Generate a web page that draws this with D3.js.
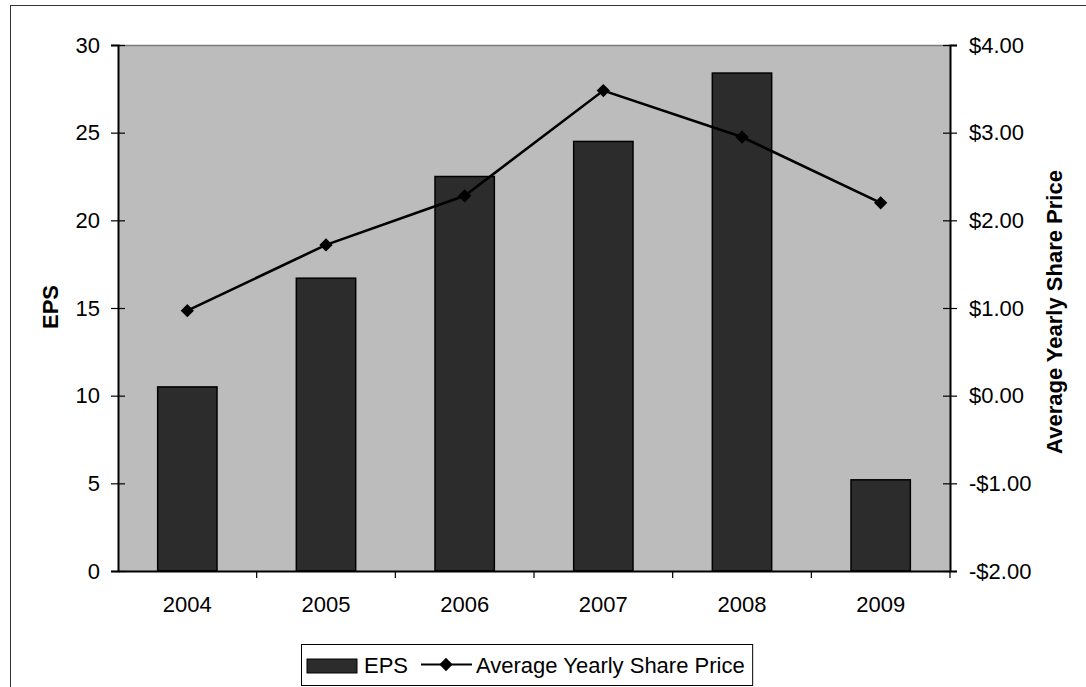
<!DOCTYPE html>
<html>
<head>
<meta charset="utf-8">
<script src="https://cdn.jsdelivr.net/npm/d3@7"></script>
<style>
  html, body { margin: 0; padding: 0; background: #fff; }
  svg { display: block; font-family: "Liberation Sans", Arial, sans-serif; }
</style>
</head>
<body>
<svg id="chart" width="1086" height="687"></svg>
<script>
// EPS and average yearly share price, 2004-2009
const years = ["2004", "2005", "2006", "2007", "2008", "2009"];
const epsValues = [10.5, 16.7, 22.5, 24.5, 28.4, 5.2];
const priceValues = [0.97, 1.72, 2.28, 3.48, 2.95, 2.20];
const epsTicks = [0, 5, 10, 15, 20, 25, 30];
const priceTicks = [-2, -1, 0, 1, 2, 3, 4];

const W = 1086, H = 687;
const plot = { left: 118, right: 950, top: 45, bottom: 571 };
const fontSize = 22;

const svg = d3.select("#chart");

// chart frame (runs off the right and bottom edges)
svg.append("rect")
  .attr("x", 10.5).attr("y", 5.5)
  .attr("width", W + 10).attr("height", H + 10)
  .attr("fill", "#fff").attr("stroke", "#333").attr("stroke-width", 1);

const x = d3.scaleBand().domain(years).range([plot.left, plot.right]).padding(0);
const yL = d3.scaleLinear().domain([0, 30]).range([plot.bottom, plot.top]);
const yR = d3.scaleLinear().domain([-2, 4]).range([plot.bottom, plot.top]);
const barW = x.bandwidth() * 0.428;

// plot area
svg.append("rect")
  .attr("x", plot.left).attr("y", plot.top)
  .attr("width", plot.right - plot.left).attr("height", plot.bottom - plot.top)
  .attr("fill", "#bcbcbc");
svg.append("line")
  .attr("x1", plot.left).attr("x2", plot.right)
  .attr("y1", plot.top + 0.5).attr("y2", plot.top + 0.5)
  .attr("stroke", "#7a7a7a").attr("stroke-width", 1.5);

// EPS bars
svg.append("g").selectAll("rect")
  .data(years.map((y, i) => ({ year: y, v: epsValues[i] })))
  .join("rect")
  .attr("x", d => x(d.year) + x.bandwidth() / 2 - barW / 2)
  .attr("y", d => yL(d.v))
  .attr("width", barW)
  .attr("height", d => yL(0) - yL(d.v))
  .attr("fill", "#2c2c2c")
  .attr("stroke", "#000").attr("stroke-width", 1.5);

// share price line
const pts = years.map((y, i) => [x(y) + x.bandwidth() / 2, yR(priceValues[i])]);
svg.append("path")
  .attr("d", d3.line()(pts))
  .attr("fill", "none").attr("stroke", "#000").attr("stroke-width", 2.6);
const diamond = d3.symbol().type(d3.symbolSquare).size(88);
svg.append("g").selectAll("path")
  .data(pts)
  .join("path")
  .attr("d", diamond)
  .attr("transform", d => `translate(${d[0]},${d[1]}) rotate(45)`)
  .attr("fill", "#000");

// left axis
const gL = svg.append("g")
  .attr("transform", `translate(${plot.left},0)`)
  .call(d3.axisLeft(yL).tickValues(epsTicks).tickSize(7).tickPadding(11));
gL.select(".domain").attr("stroke", "#000").attr("stroke-width", 2);
gL.selectAll(".tick line").attr("x1", 7).attr("stroke", "#000").attr("stroke-width", 1.2);
gL.selectAll(".tick text").attr("font-size", fontSize).attr("fill", "#000")
  .attr("font-family", "Liberation Sans, Arial, sans-serif");

// right axis
const gR = svg.append("g")
  .attr("transform", `translate(${plot.right},0)`)
  .call(d3.axisRight(yR).tickValues(priceTicks).tickSize(7).tickPadding(12)
    .tickFormat(d => (d < 0 ? "-$" : "$") + Math.abs(d).toFixed(2)));
gR.select(".domain").attr("stroke", "#000").attr("stroke-width", 2);
gR.selectAll(".tick line").attr("x1", -7).attr("stroke", "#000").attr("stroke-width", 1.2);
gR.selectAll(".tick text").attr("font-size", fontSize).attr("fill", "#000")
  .attr("font-family", "Liberation Sans, Arial, sans-serif");

// category axis
const gX = svg.append("g")
  .attr("transform", `translate(0,${plot.bottom})`)
  .call(d3.axisBottom(x).tickSize(0).tickPadding(25));
gX.select(".domain").attr("stroke", "#000").attr("stroke-width", 2);
gX.selectAll(".tick text").attr("font-size", fontSize).attr("fill", "#000")
  .attr("font-family", "Liberation Sans, Arial, sans-serif");
gX.selectAll(".divider")
  .data(years.slice(1).concat(["__end"]))
  .join("line")
  .attr("class", "divider")
  .attr("x1", d => d === "__end" ? plot.right : x(d))
  .attr("x2", d => d === "__end" ? plot.right : x(d))
  .attr("y1", 0).attr("y2", 7)
  .attr("stroke", "#000").attr("stroke-width", 1.2);

// axis titles
svg.append("text")
  .attr("transform", `translate(58,307) rotate(-90)`)
  .attr("text-anchor", "middle")
  .attr("font-size", fontSize).attr("font-weight", "bold")
  .text("EPS");
svg.append("text")
  .attr("transform", `translate(1062,312) rotate(-90)`)
  .attr("text-anchor", "middle")
  .attr("font-size", fontSize).attr("font-weight", "bold")
  .text("Average Yearly Share Price");

// legend
const lg = svg.append("g");
lg.append("text").attr("x", 364).attr("y", 673)
  .attr("font-size", fontSize).text("EPS");
const lgText2 = lg.append("text").attr("x", 476).attr("y", 673)
  .attr("font-size", fontSize).text("Average Yearly Share Price");
const endX = lgText2.node().getComputedTextLength() + 476;
lg.insert("rect", ":first-child")
  .attr("x", 301.5).attr("y", 644.5)
  .attr("width", endX + 8 - 301.5).attr("height", 41)
  .attr("fill", "#fff").attr("stroke", "#000").attr("stroke-width", 1);
lg.append("rect")
  .attr("x", 307).attr("y", 659).attr("width", 50).attr("height", 14)
  .attr("fill", "#2c2c2c").attr("stroke", "#000").attr("stroke-width", 1);
lg.append("line")
  .attr("x1", 421).attr("x2", 472).attr("y1", 664.5).attr("y2", 664.5)
  .attr("stroke", "#000").attr("stroke-width", 2);
lg.append("path")
  .attr("d", diamond)
  .attr("transform", "translate(446,664.5) rotate(45)")
  .attr("fill", "#000");
</script>
</body>
</html>
